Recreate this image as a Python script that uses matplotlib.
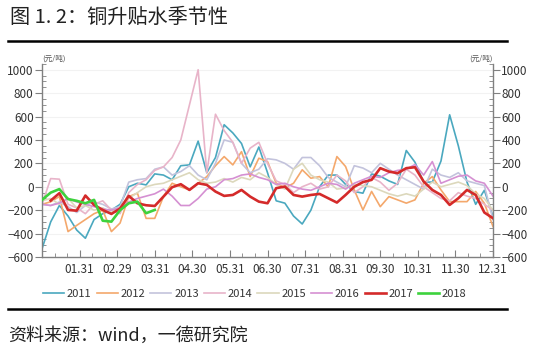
import numpy as np
import matplotlib
matplotlib.use("Agg")
import matplotlib.pyplot as plt
from matplotlib.ticker import MultipleLocator

plt.rcParams['font.family'] = ['Noto Sans CJK SC', 'DejaVu Sans']

# week index 0..52 over one year, x axis in months (0 = 01.01, 12 = 12.31)
weeks = np.arange(53)
nan = np.nan

y2011 = [-530, -300, -160, -250, -370, -440, -280, -230, -200, -150, 0, 30, 16,
         110, 100, 60, 180, 187, 390, 120, 250, 530, 460, 370, 170, 340, 120,
         -120, -140, -250, -318, -200, 0, 100, 100, 20, -40, -55, 110, 90, 50,
         20, 310, 210, 40, 40, 220, 615, 350, 40, -150, -30, -255]
y2012 = [-150, -128, -84, -383, -330, -280, -230, -200, -383, -310, -84, -55, -270,
         -270, -84, 30, 0, -27, 30, 87, 180, 258, 187, 300, 87, 244, 215,
         30, -10, 30, 145, 73, 87, 0, 258, 173, -27, -198, -40, -170, -84,
         -112, -140, -112, 30, 87, -27, -127, -127, -127, -40, -141, -340]
y2013 = [-150, -160, -130, -170, -220, -160, -130, -150, -190, -170, 40, 60, 70,
         150, 170, 100, 130, 180, 100, 60, 200, 400, 380, 200, 120, 150, 240,
         230, 200, 150, 250, 250, 180, 80, 40, 0, 180, 160, 120, 200, 150,
         100, 60, 20, -20, 150, 100, 80, 120, 50, 30, 10, -280]
y2014 = [-150, 70, 65, -150, -180, -230, -150, -120, -200, -230, -50, 20, 60,
         140, 170, 250, 400, 700, 1000, 120, 620, 480, 380, 200, 330, 380, 200,
         50, 20, -50, 0, 30, -20, 0, 100, 50, -50, 0, 80, 40, -30,
         30, 150, 100, 0, -50, -100, -120, -50, -80, -100, -150, -200]
y2015 = [-120, -100, -150, -100, -180, -160, -200, -180, -220, -170, -100, -50, 0,
         20, 30, 60, 90, 120, 60, 30, 40, 70, 40, 80, 60, 120, 80,
         20, -20, 150, 200, 100, 60, 40, -20, -10, 20, 10, 0, -30, -60,
         -80, -60, -80, -20, 40, 0, 20, 40, 10, -60, -100, -200]
y2016 = [-150, -160, -140, -100, -130, -150, -170, -190, -200, -180, -130, -100, -80,
         -60, -20, -80, -160, -160, -100, -20, 0, 60, 70, 100, 110, 80, 60,
         20, 30, 0, -20, -30, 0, 30, 20, -20, 30, 60, 90, 80, 120,
         140, 150, 190, 100, 215, 30, 60, 90, 100, 50, 30, -80]
y2017 = [nan, -118, -55, -198, -204, -75, -155, -198, -232, -186, -78, -141, -158,
         -164, -84, -4, 22, -27, 30, 16, -41, -78, -70, -27, -84, -127, -141,
         -12, 2, -70, -84, -70, -61, -98, -135, -70, 0, 40, 59, 159, 130,
         116, 159, 167, 45, -27, -70, -155, -98, -27, -70, -220, -269]
y2018 = [-112, -50, -20, -105, -120, -141, -112, -290, -298, -200, -141, -127, -226,
         -198] + [nan] * 39

years = ['2011', '2012', '2013', '2014', '2015', '2016', '2017', '2018']
series = [y2011, y2012, y2013, y2014, y2015, y2016, y2017, y2018]
colors = ['#4aa8bf', '#f4a86c', '#c3c3dc', '#e8b4c9', '#dcd8bc', '#d590d2', '#d42a2a', '#3dd23d']
widths = [1.2, 1.2, 1.2, 1.2, 1.2, 1.2, 1.9, 1.9]

month_labels = ['01.31', '02.29', '03.31', '04.30', '05.31', '06.30',
                '07.31', '08.31', '09.30', '10.31', '11.30', '12.31']

fig = plt.figure(figsize=(5.5, 3.53), dpi=100)
ax = fig.add_axes([0.0764, 0.272, 0.82, 0.547])

x = weeks * 12 / 52
for yr, vals, c, w in zip(years, series, colors, widths):
    ax.plot(x, vals, color=c, lw=w, label=yr, zorder=3 if yr in ('2017', '2018') else 2)

ax.set_xlim(0, 12)
ax.set_ylim(-600, 1050)
ax.set_yticks(np.arange(-600, 1001, 200))
ax.yaxis.set_minor_locator(MultipleLocator(50))
ax.set_xticks(np.arange(1, 13))
ax.set_xticklabels(month_labels)
ax.xaxis.set_minor_locator(MultipleLocator(1 / 3))
ax.grid(axis='y', color='#f2f2f2', lw=0.8, zorder=0)

ax.spines['top'].set_visible(False)
for s in ['left', 'right', 'bottom']:
    ax.spines[s].set_color('#808080')
    ax.spines[s].set_linewidth(1.0)

ax.tick_params(axis='y', which='major', direction='out', length=5, color='#808080',
               labelsize=8.5, labelcolor='#333333', pad=1, left=True, right=True,
               labelleft=True, labelright=True)
ax.tick_params(axis='y', which='minor', direction='in', length=3, color='#808080',
               left=True, right=True)
ax.tick_params(axis='x', which='major', direction='in', length=5, color='#808080',
               labelsize=8.5, labelcolor='#333333', pad=4)
ax.tick_params(axis='x', which='minor', direction='in', length=3, color='#808080')

ax.text(0.0, 1.005, '(元/吨)', transform=ax.transAxes, fontsize=5.5, color='#555555',
        ha='left', va='bottom')
ax.text(1.0, 1.005, '(元/吨)', transform=ax.transAxes, fontsize=5.5, color='#555555',
        ha='right', va='bottom')

ax.legend(loc='upper center', bbox_to_anchor=(0.472, -0.115), ncol=8, frameon=False,
          fontsize=8, handlelength=1.9, handletextpad=0.25, columnspacing=0.45,
          labelcolor='#333333')

fig.text(0.018, 0.950, '图 1. 2：铜升贴水季节性', fontsize=14.5, color='#222222',
         ha='left', va='center')
fig.text(0.015, 0.050, '资料来源：wind，一德研究院', fontsize=13, color='#222222',
         ha='left', va='center')
fig.add_artist(plt.Line2D([0.015, 0.922], [0.885, 0.885], color='black', lw=1.8))
fig.add_artist(plt.Line2D([0.015, 0.922], [0.125, 0.125], color='black', lw=1.8))

fig.savefig('out.png', dpi=100)
